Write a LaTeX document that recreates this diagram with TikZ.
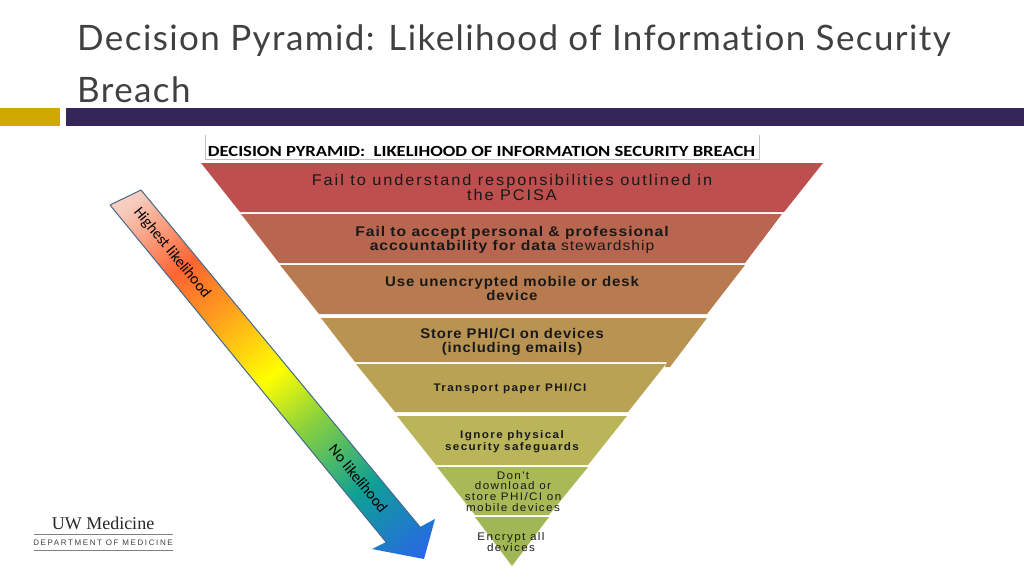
\documentclass[tikz,border=0pt]{standalone}
\usepackage{fontspec}
\setmainfont{Liberation Sans}
\newfontfamily\titlefont[LetterSpace=4,Ligatures=NoCommon]{Lato}
\newfontfamily\headfont{Carlito}
\newfontfamily\logofont{Liberation Serif}
\newfontfamily\bandfont[LetterSpace=6]{Liberation Sans}
\newfontfamily\widefont[LetterSpace=12]{Liberation Sans}
\definecolor{titlegray}{HTML}{404040}
\definecolor{goldbar}{HTML}{CFA800}
\definecolor{navybar}{HTML}{35265A}
\definecolor{arrowline}{HTML}{44688C}
\definecolor{b1}{HTML}{BD4F4E}
\definecolor{b2}{HTML}{B8664F}
\definecolor{b3}{HTML}{B87B50}
\definecolor{b4}{HTML}{B99351}
\definecolor{b5}{HTML}{B9A253}
\definecolor{b6}{HTML}{B9B558}
\definecolor{b7}{HTML}{AAB957}
\definecolor{b8}{HTML}{A1B755}
\definecolor{lblue}{HTML}{2A62EE}
\definecolor{lteal}{HTML}{0FA095}
\definecolor{lgreen}{HTML}{8CD23C}
\definecolor{lorange}{HTML}{FF9A1E}
\definecolor{lred}{HTML}{FF6432}
\definecolor{lpink}{HTML}{F6CDBE}
\pgfdeclareverticalshading{likelihood}{100bp}{
  color(0bp)=(lblue);
  color(15bp)=(lblue);
  color(29bp)=(lteal);
  color(41.4bp)=(lgreen);
  color(50bp)=(yellow);
  color(62bp)=(lorange);
  color(70bp)=(lred);
  color(82bp)=(lpink);
  color(100bp)=(lpink)}
\tikzset{
  band text/.style={align=center,font=\bandfont\fontsize{14}{14}\selectfont\bfseries,text=black!90,inner sep=0pt},
  small text/.style={align=center,xscale=1.06,font=\widefont\fontsize{11}{12}\selectfont\bfseries,text=black!90,inner sep=0pt},
  arrow text/.style={font=\headfont\fontsize{15.5}{15.5}\selectfont,rotate=-50.7,inner sep=0pt},
}
\begin{document}
\begin{tikzpicture}[x=1pt,y=-1pt]
  \useasboundingbox (0,0) rectangle (1024,576);

  % title and bars
  \node[anchor=north west,align=left,inner sep=0pt,text=titlegray,font=\titlefont\fontsize{35}{51.5}\selectfont] (title) at (77,25)
    {Decision Pyramid: Likelihood of Information Security\\Breach};
  \fill[goldbar] (0,108) rectangle (60,126);
  \fill[navybar] (66,108) rectangle (1024,126);

  % heading of the pasted picture
  \draw[black!25,thin] (205,135) -- (205,159) -- (759,159) -- (759,135);
  \node[xscale=1.2,font=\headfont\fontsize{15.5}{15}\selectfont\bfseries,inner sep=0pt] (head) at (481.5,151)
    {DECISION PYRAMID:\ \ LIKELIHOOD OF INFORMATION SECURITY BREACH};

  % pyramid
  \fill[b1] (201,163) -- (823,163) -- (784,212) -- (240,212) -- cycle;
  \fill[b2] (241,214) -- (782,214) -- (745,263) -- (279,263) -- cycle;
  \fill[b3] (280,265) -- (745,265) -- (707,314) -- (319,314) -- cycle;
  \fill[b4] (321,318) -- (707,318) -- (670,367) -- (665,367) -- (667,362) -- (355,362) -- cycle;
  \fill[b5] (356,364) -- (666,364) -- (628,412) -- (395,412) -- cycle;
  \fill[b6] (397,416) -- (627,416) -- (588,465) -- (436,465) -- cycle;
  \fill[b7] (437,467) -- (588,467) -- (549,515) -- (475,515) -- cycle;
  \fill[b8] (475,517) -- (549,517) -- (512,566) -- cycle;

  \node[band text,xscale=1.05,font=\widefont\fontsize{15.5}{15}\selectfont] (fail1) at (512,187.5) {Fail to understand responsibilities outlined in\\the PCISA};
  \node[band text,xscale=1.12] (fail2) at (512,239.5) {Fail to accept personal \& professional\\accountability for data {\mdseries stewardship}};
  \node[band text,xscale=1.07] (use) at (512,288.5) {Use unencrypted mobile or desk\\device};
  \node[band text,xscale=1.06] (store) at (512,342) {Store PHI/CI on devices\\(including emails)};
  \node[small text] (transport) at (510,388.5) {Transport paper PHI/CI};
  \node[small text] (ignore) at (512,442) {Ignore physical\\security safeguards};
  \node[small text,font=\widefont\fontsize{11}{10.8}\selectfont] (download) at (513,491.5) {Don't\\download or\\store PHI/CI on\\mobile devices};
  \node[small text,font=\widefont\fontsize{11}{11.2}\selectfont] (encrypt) at (511,542) {Encrypt all\\devices};

  % likelihood arrow
  \shade[shading=likelihood,shading angle=39.3]
    (110,205) -- (141,190) -- (420,527) -- (435,519) -- (424,559) -- (372,549) -- (386,542) -- cycle;
  \draw[arrowline,line width=1pt,line join=round] (386,542) -- (110,205) -- (141,190) -- (420,527);
  \node[arrow text] (high) at (172,253) {Highest likelihood};
  \node[arrow text] (none) at (358.5,478.5) {No likelihood};

  % logo
  \node[font=\logofont\fontsize{18}{18}\selectfont,inner sep=0pt,text=black!85] (uw) at (103,523) {UW Medicine};
  \draw[black!50,line width=.6pt] (34,534) -- (173,534);
  \node[font=\fontsize{8}{8}\selectfont,inner sep=0pt,text=black!75] (dept) at (103,543) {\addfontfeature{LetterSpace=20}DEPARTMENT OF MEDICINE};
  \draw[black!50,line width=.6pt] (34,550) -- (173,550);
\end{tikzpicture}
\end{document}
